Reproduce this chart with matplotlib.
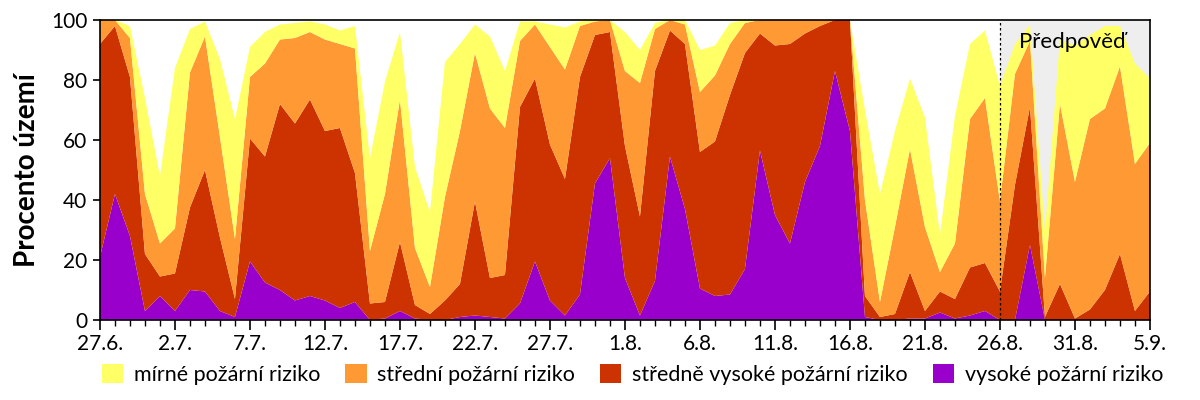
import numpy as np
import matplotlib.pyplot as plt
from matplotlib.patches import Patch

plt.rcParams['font.family'] = ['Lato', 'DejaVu Sans']

# den 0 = 27.6., posledni den = 5.9.; predpoved od 26.8.
tick_labels = ['27.6.', '2.7.', '7.7.', '12.7.', '17.7.', '22.7.', '27.7.', '1.8.',
               '6.8.', '11.8.', '16.8.', '21.8.', '26.8.', '31.8.', '5.9.']
forecast_start = 60

# procenta uzemi v jednotlivych stupnich rizika
vysoke = [21, 42, 28, 3, 8, 3, 10, 9.5, 3, 1, 19.5, 12.5, 10, 6.5, 8, 6.5, 4, 6,
          0, 0.5, 3, 0.5, 0, 0, 1, 1.5, 1, 0.5, 5.5, 19.5, 6.5, 1.5, 8.5, 45.5, 54, 14,
          1.5, 13, 54.5, 37, 10.5, 8, 8.5, 17, 56.5, 35, 25.5, 46, 58, 83, 63, 1,
          0, 0, 0.5, 0.5, 2.5, 0.5, 1.5, 3, 0, 0, 25, 0, 0, 0, 0, 0, 0, 0, 0]
stredne_vysoke = [71, 56, 53, 19, 6.5, 12.5, 27.5, 40.5, 24.5, 6, 41, 42, 62, 59, 65.5, 56.5, 60, 43,
                  5.5, 5.5, 23, 4.5, 2, 6.5, 11, 38, 13, 14.5, 65.5, 61, 52, 45.5, 72.5, 49.5, 42, 44,
                  33, 70, 42, 55, 45.5, 51.5, 66.5, 72, 39, 56.5, 66.5, 49.5, 40, 17, 37, 7,
                  1, 2, 15.5, 2.5, 7, 6.5, 16, 16, 9.5, 45, 46, 1, 12, 0.5, 3.5, 10, 22, 3, 9.5]
stredni = [8, 2, 13, 20, 11, 15, 45, 44.5, 33.5, 20, 20.5, 31, 21.5, 28.5, 22.5, 30.5, 28, 41.5,
           17.5, 36, 47.5, 19, 9, 34.5, 51, 49.5, 56.5, 49, 22, 18, 32.5, 36.5, 17, 4.5, 4, 25,
           44.5, 14, 3.5, 6.5, 20, 22, 17, 10, 4.5, 8.5, 8, 4.5, 2, 0, 0, 32,
           5, 29, 41, 28, 6.5, 18.5, 49.5, 55, 30, 37, 22, 13, 60, 45.5, 63.5, 60.5, 62.5, 49, 49.5]
mirne = [0, 0, 4, 32, 22.5, 53.5, 14.5, 5, 26, 40, 10, 10.5, 5, 5, 3.5, 5, 4.5, 7.5,
         31, 37.5, 22.5, 27, 25, 45, 29, 9.5, 24, 19, 6.5, 1, 7.5, 14, 1.5, 0.5, 0, 13,
         11, 2, 0, 1.5, 14, 10, 7, 1, 0, 0, 0, 0, 0, 0, 0, 30,
         36, 32, 23.5, 36.5, 12.5, 42.5, 25, 22.5, 38.5, 10, 5.5, 15.5, 21.5, 45.5, 28, 27.5, 13.5, 33.5, 21.5]

names = ['mírné požární riziko', 'střední požární riziko',
         'středně vysoké požární riziko', 'vysoké požární riziko']
colors = ['#FFFF66', '#FF9933', '#CC3300', '#9900CC']

days = np.arange(len(vysoke))

fig = plt.figure(figsize=(12, 4), dpi=100)
ax = fig.add_axes([0.0833, 0.2, 0.875, 0.75])

ax.axvspan(forecast_start, days[-1], color='#EEEEEE', zorder=0, lw=0)
ax.stackplot(days, vysoke, stredne_vysoke, stredni, mirne,
             colors=colors[::-1], lw=0, zorder=1)
ax.axvline(forecast_start, color='black', ls=(0, (2, 2)), lw=0.9, zorder=3)
ax.text(61.3, 92.5, 'Předpověď', fontsize=16, va='center', ha='left', zorder=4)

ax.set_xlim(0, days[-1])
ax.set_ylim(0, 100)
ax.set_xticks(np.arange(0, len(days), 5))
ax.set_xticklabels(tick_labels)
ax.set_xticks(days, minor=True)
ax.set_yticks(np.arange(0, 101, 20))
ax.tick_params(axis='both', labelsize=15, direction='out', width=1.2)
ax.tick_params(axis='x', which='major', length=7, pad=3)
ax.tick_params(axis='x', which='minor', length=4, width=1)
ax.tick_params(axis='y', length=5, pad=4)
for s in ax.spines.values():
    s.set_linewidth(1.2)
ax.set_ylabel('Procento území', fontsize=20, fontweight='bold', labelpad=8)

handles = [Patch(facecolor=c, edgecolor='none') for c in colors]
fig.legend(handles, names, loc='lower center', bbox_to_anchor=(0.527, -0.01), ncol=4,
           frameon=False, fontsize=15.5, handlelength=1.0, handleheight=1.0,
           columnspacing=1.15, handletextpad=0.5)

fig.savefig('out.png', dpi=100)
